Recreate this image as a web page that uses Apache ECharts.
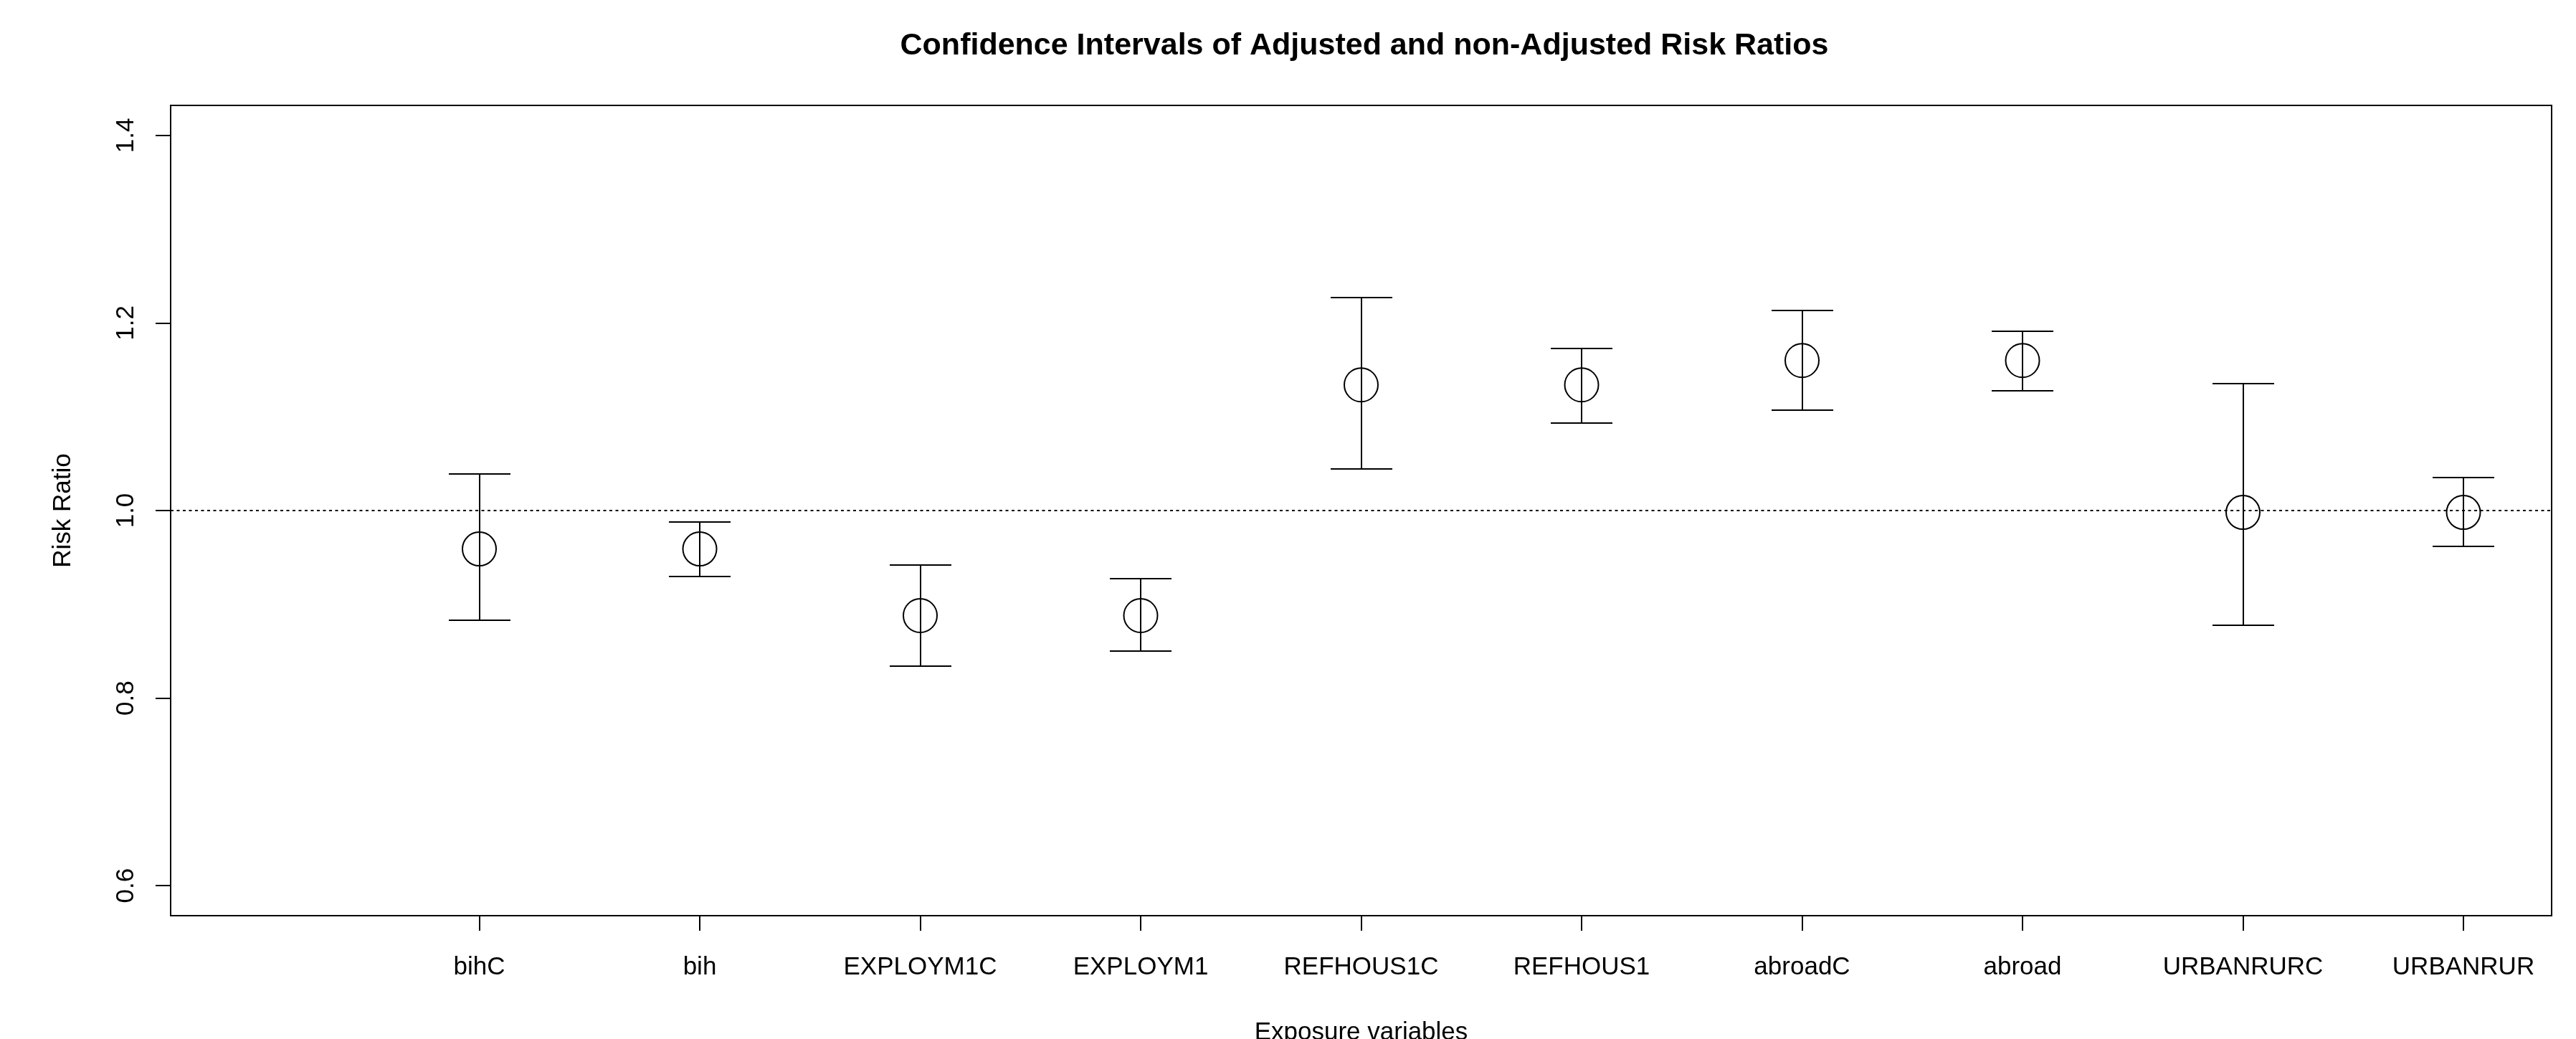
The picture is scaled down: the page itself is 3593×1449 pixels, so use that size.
<!DOCTYPE html>
<html>
<head>
<meta charset="utf-8">
<title>Confidence Intervals of Adjusted and non-Adjusted Risk Ratios</title>
<script src="https://cdn.jsdelivr.net/npm/echarts@6/dist/echarts.min.js"></script>
<style>
html,body{margin:0;padding:0;background:#fff;}
#chart{width:3593px;height:1449px;}
</style>
</head>
<body>
<div id="chart"></div>
<script>
// exposure variables, in plotting order (x = 1..10)
var categories = ['bihC', 'bih', 'EXPLOYM1C', 'EXPLOYM1', 'REFHOUS1C', 'REFHOUS1', 'abroadC', 'abroad', 'URBANRURC', 'URBANRUR'];
// point estimates and confidence limits
var riskRatio = [0.959, 0.959, 0.888, 0.888, 1.134, 1.134, 1.160, 1.160, 0.998, 0.998];
var lower = [0.883, 0.930, 0.834, 0.850, 1.044, 1.093, 1.107, 1.128, 0.878, 0.962];
var upper = [1.039, 0.988, 0.942, 0.927, 1.227, 1.173, 1.213, 1.191, 1.135, 1.035];
// tick labels
var yTicks = [0.6, 0.8, 1.0, 1.2, 1.4];
var xTicks = [1, 2, 3, 4, 5, 6, 7, 8, 9, 10];

var font = 'Liberation Sans, Arial, Helvetica, sans-serif';
var chart = echarts.init(document.getElementById('chart'));

// error bar with caps (snapped to whole pixels so the 2px lines stay crisp)
function renderBar(params, api) {
  var x = api.value(0);
  var lo = api.coord([x, api.value(1)]);
  var hi = api.coord([x, api.value(2)]);
  var cx = Math.round(lo[0]);
  var y1 = Math.round(lo[1]);
  var y2 = Math.round(hi[1]);
  var half = 43;
  function seg(x1, ya, x2, yb) {
    return {type: 'line', shape: {x1: x1, y1: ya, x2: x2, y2: yb}, style: {stroke: '#000', lineWidth: 2}};
  }
  return {
    type: 'group',
    children: [
      seg(cx, y1, cx, y2),
      seg(cx - half, y1, cx + half, y1),
      seg(cx - half, y2, cx + half, y2)
    ]
  };
}

chart.setOption({
  animation: false,
  backgroundColor: '#fff',
  title: {
    text: 'Confidence Intervals of Adjusted and non-Adjusted Risk Ratios',
    left: 1898,
    textAlign: 'center',
    top: 38,
    textStyle: {fontFamily: font, fontSize: 43, fontWeight: 'bold', color: '#000'}
  },
  grid: {
    left: 238,
    top: 147,
    width: 3321,
    height: 1130,
    outerBoundsMode: 'none',
    containLabel: false,
    show: true,
    borderColor: '#000',
    borderWidth: 2,
    backgroundColor: 'transparent'
  },
  xAxis: {
    type: 'value',
    min: -0.4,
    max: 10.4,
    name: 'Exposure variables',
    nameLocation: 'middle',
    nameGap: 146,
    nameTextStyle: {fontFamily: font, fontSize: 35, color: '#000'},
    splitLine: {show: false},
    axisLine: {show: false, onZero: false},
    axisTick: {show: true, length: 21, customValues: xTicks, lineStyle: {color: '#000', width: 2}},
    axisLabel: {
      customValues: xTicks,
      margin: 55,
      fontFamily: font,
      fontSize: 35,
      color: '#000',
      formatter: function (v) { return categories[Math.round(v) - 1] || ''; }
    }
  },
  yAxis: {
    type: 'value',
    min: 0.568,
    max: 1.432,
    name: 'Risk Ratio',
    nameLocation: 'middle',
    nameRotate: 90,
    nameGap: 132,
    nameTextStyle: {fontFamily: font, fontSize: 35, color: '#000'},
    splitLine: {show: false},
    axisLine: {show: false, onZero: false},
    axisTick: {show: true, length: 21, customValues: yTicks, lineStyle: {color: '#000', width: 2}},
    axisLabel: {
      customValues: yTicks,
      rotate: 90,
      margin: 44,
      fontFamily: font,
      fontSize: 35,
      color: '#000',
      formatter: function (v) { return v.toFixed(1); }
    }
  },
  series: [
    {
      name: 'CI',
      type: 'custom',
      renderItem: renderBar,
      data: categories.map(function (c, i) { return [xTicks[i], lower[i], upper[i]]; }),
      silent: true,
      z: 2
    },
    {
      name: 'Risk Ratio',
      type: 'scatter',
      symbol: 'circle',
      symbolSize: 47,
      itemStyle: {color: 'rgba(0,0,0,0)', borderColor: '#000', borderWidth: 2, opacity: 1},
      data: riskRatio.map(function (v, i) { return [xTicks[i], v]; }),
      markLine: {
        silent: true,
        symbol: 'none',
        label: {show: false},
        lineStyle: {color: '#000', width: 2, type: [4, 4.5]},
        data: [{yAxis: 1}]
      },
      z: 3
    }
  ]
});
</script>
</body>
</html>
